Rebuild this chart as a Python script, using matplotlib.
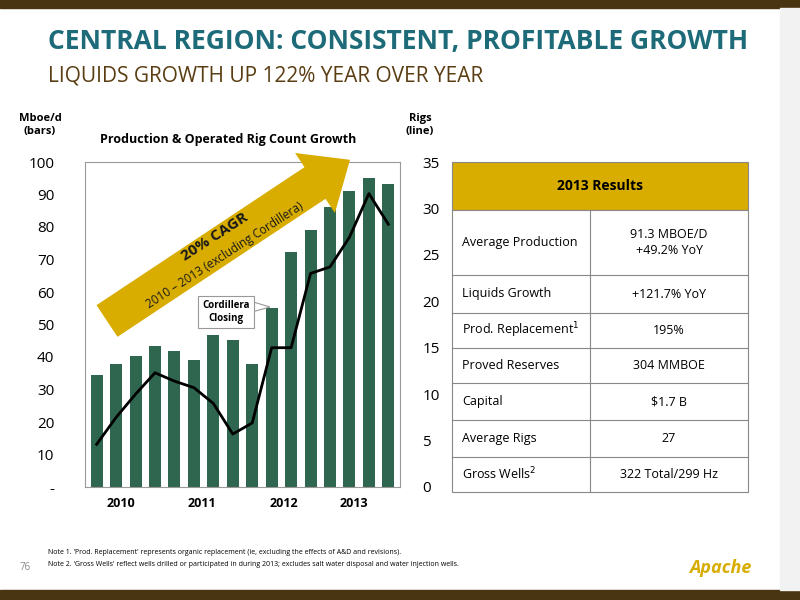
import matplotlib
matplotlib.use("Agg")
import matplotlib.pyplot as plt
from matplotlib.patches import Rectangle, FancyArrow, Polygon

production = [34.5, 37.8, 40.3, 43.5, 41.8, 39.0, 46.7, 45.2, 37.7, 55.0, 72.3, 79.2, 86.3, 91.0, 95.0, 93.2]
rigs = [4.6, 7.5, 10.0, 12.3, 11.4, 10.7, 9.0, 5.7, 6.9, 15.0, 15.0, 23.0, 23.7, 26.9, 31.6, 28.3]
years = ["2010", "2011", "2012", "2013"]
year_pos = [1.25, 5.4, 9.6, 13.2]
left_ticks = [0, 10, 20, 30, 40, 50, 60, 70, 80, 90, 100]
left_labels = ["-", "10", "20", "30", "40", "50", "60", "70", "80", "90", "100"]
right_ticks = [0, 5, 10, 15, 20, 25, 30, 35]
table_rows = [("Average Production", "91.3 MBOE/D\n+49.2% YoY"),
              ("Liquids Growth", "+121.7% YoY"),
              ("Prod. Replacement$^1$", "195%"),
              ("Proved Reserves", "304 MMBOE"),
              ("Capital", "$1.7 B"),
              ("Average Rigs", "27"),
              ("Gross Wells$^2$", "322 Total/299 Hz")]

plt.rcParams['font.family'] = ['Open Sans', 'DejaVu Sans']
fig = plt.figure(figsize=(8, 6), dpi=100)

ax = fig.add_axes([85/800, 113/600, 315/800, 325/600])
x = list(range(len(production)))
ax.bar(x, production, width=0.62, color="#2e6650")
ax.set_ylim(0, 100)
ax.set_xlim(-0.6, 15.6)
ax.set_yticks(left_ticks)
ax.set_yticklabels(left_labels, fontsize=11)
ax.set_xticks([])
ax.tick_params(axis='y', length=0, pad=22)
for s in ax.spines.values():
    s.set_color("#999999")
ax2 = ax.twinx()
ax2.plot(x, rigs, color="black", lw=2)
ax2.set_ylim(0, 35)
ax2.set_yticks(right_ticks)
ax2.tick_params(axis='y', length=0, labelsize=11, pad=16)
for s in ax2.spines.values():
    s.set_visible(False)
for y, p in zip(years, year_pos):
    ax.text(p, -3, y, ha="center", va="top", fontsize=9, fontweight="bold")

ov = fig.add_axes([0, 0, 1, 1], zorder=10)
ov.set_xlim(0, 800); ov.set_ylim(600, 0); ov.axis("off"); ov.patch.set_alpha(0)
ov.add_patch(Rectangle((0, 0), 800, 8, color="#4a3512"))
ov.add_patch(Rectangle((0, 590), 800, 10, color="#4a3512"))
ov.add_patch(Rectangle((780, 8), 20, 582, color="#f2f2f2"))
ov.text(48, 42, "CENTRAL REGION: CONSISTENT, PROFITABLE GROWTH", fontsize=19, fontweight="bold", color="#1d6a78", va="center")
ov.text(48, 76, "LIQUIDS GROWTH UP 122% YEAR OVER YEAR", fontsize=15, color="#5a3d12", va="center")
ov.text(40, 125, "Mboe/d\n(bars)", fontsize=8, fontweight="bold", ha="center", va="center")
ov.text(420, 125, "Rigs\n(line)", fontsize=8, fontweight="bold", ha="center", va="center")
ov.text(228, 140, "Production & Operated Rig Count Growth", fontsize=9, fontweight="bold", ha="center", va="center")

ov.add_patch(FancyArrow(107, 321, 208, -138, width=38, head_width=72, head_length=42,
                        length_includes_head=False, color="#d8ad00", lw=0))
ov.text(215, 237, "20% CAGR", rotation=33, fontsize=11, fontweight="bold", color="#1a1a1a", ha="center", va="center")
ov.text(225, 255, "2010 – 2013 (excluding Cordillera)", rotation=33, fontsize=8.5, color="#1a1a1a", ha="center", va="center")

ov.add_patch(Polygon([[240, 298], [270, 307], [252, 312]], fc="white", ec="#999999", lw=0.8))
ov.add_patch(Rectangle((198, 296), 56, 32, fc="white", ec="#999999", lw=0.8))
ov.text(226, 312, "Cordillera\nClosing", fontsize=7, fontweight="bold", ha="center", va="center")

# table
tx0, tx1, tcol = 452, 748, 590
ov.add_patch(Rectangle((tx0, 162), tx1-tx0, 48, fc="#d8ad00", ec="#888888", lw=0.8))
ov.text((tx0+tx1)/2, 186, "2013 Results", fontsize=10, fontweight="bold", ha="center", va="center")
bounds = [210, 275, 313, 348, 383, 420, 457, 492]
ov.add_patch(Rectangle((tx0, 210), tx1-tx0, 282, fc="white", ec="#888888", lw=0.8))
ov.plot([tcol, tcol], [210, 492], color="#888888", lw=0.8)
for i, (k, v) in enumerate(table_rows):
    y0, y1 = bounds[i], bounds[i+1]
    if i > 0:
        ov.plot([tx0, tx1], [y0, y0], color="#888888", lw=0.8)
    ym = (y0+y1)/2
    ov.text(462, ym, k, fontsize=9, va="center")
    ov.text((tcol+tx1)/2, ym, v, fontsize=9, ha="center", va="center")

ov.text(48, 552, "Note 1. 'Prod. Replacement' represents organic replacement (ie, excluding the effects of A&D and revisions).", fontsize=5, va="center")
ov.text(48, 564, "Note 2. 'Gross Wells' reflect wells drilled or participated in during 2013; excludes salt water disposal and water injection wells.", fontsize=5, va="center")
ov.text(20, 568, "76", fontsize=7, color="#888888", va="center")
ov.text(720, 568, "Apache", fontsize=13, fontstyle="italic", fontweight="bold", color="#d8ad00", ha="center", va="center")

fig.savefig("out.png", dpi=100)
